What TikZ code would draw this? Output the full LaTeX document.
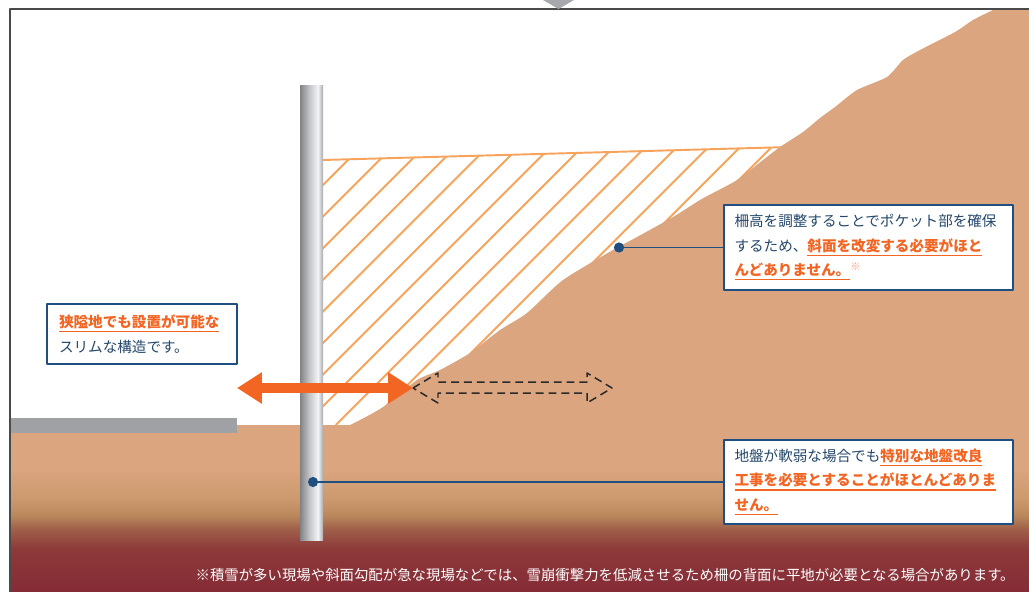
\documentclass[tikz,border=0pt]{standalone}
\usepackage{fontspec}
\setmainfont{Noto Sans CJK JP}
\usetikzlibrary{arrows.meta, positioning}

\definecolor{soil}{HTML}{DBA57F}
\definecolor{soilmid}{HTML}{CC9A6E}
\definecolor{soiltan}{HTML}{BB885C}
\definecolor{soilrust}{HTML}{A0604A}
\definecolor{soilred}{HTML}{8D3A3A}
\definecolor{soildeep}{HTML}{852B36}
\definecolor{poledark}{HTML}{818286}
\definecolor{polemid}{HTML}{C3C4C7}
\definecolor{polelight}{HTML}{F4F4F6}
\definecolor{poleedge}{HTML}{A9AAAE}

\pgfdeclareverticalshading{soilfade}{100bp}{color(0bp)=(soildeep); color(25bp)=(soildeep); color(38bp)=(soilred); color(44bp)=(soilrust); color(48bp)=(soiltan); color(53bp)=(soilmid); color(62bp)=(soil); color(100bp)=(soil)}
\pgfdeclarehorizontalshading{polemetal}{100bp}{color(0bp)=(poledark); color(25bp)=(poledark); color(45bp)=(polemid); color(64bp)=(polelight); color(71bp)=(polemid); color(75bp)=(poleedge); color(100bp)=(poleedge)}

% bold orange text with a rule under it
\newsavebox{\keybox}
\newcommand{\keypoint}[1]{\leavevmode{\color{accent}\bfseries\sbox{\keybox}{#1}\rlap{\rule[-2.6pt]{\wd\keybox}{0.8pt}}\usebox{\keybox}}}

\begin{document}
\begin{tikzpicture}[x=0.02cm, y=-0.02cm, line join=round,
    note/.style={draw=navy, line width=0.9pt, fill=white, align=left, text=ink, inner sep=0pt,
      font=\fontsize{8.3}{13.9}\selectfont},
    leader/.style={draw=navy, line width=1.1pt},
    pin/.style={circle, fill=navy, inner sep=0pt, minimum size=5.8pt},
    hatch/.style={draw=hatchorange, line width=1.1pt},
    wide arrow/.style={draw=accent, line width=5.67pt, {Triangle[length=14.2pt, width=17pt]}-{Triangle[length=14.2pt, width=17pt]}},
    reach arrow/.style={draw=dashgray, line width=0.85pt, dash pattern=on 4.5pt off 2.8pt}]
  \definecolor{navy}{HTML}{1F4E80}
  \definecolor{ink}{HTML}{24476B}
  \definecolor{accent}{HTML}{F26522}
  \definecolor{hatchorange}{HTML}{F7A35C}
  \definecolor{asterisk}{HTML}{F5A080}
  \definecolor{pavement}{HTML}{A0A1A5}
  \definecolor{dashgray}{HTML}{2A2A2A}
  \definecolor{framegray}{HTML}{4A4A4A}
  \definecolor{markgray}{HTML}{A7A8AB}

  \useasboundingbox (0,0) rectangle (1029,592);

  % ground and pavement
  \shade[shading=soilfade] (10,425) rectangle (1029,592);
  \fill[pavement] (10,418) rectangle (237,433);

  % pocket behind the fence
  \begin{scope}
    \clip (323,160) -- (800,147) -- (800,425) -- (323,425) -- cycle;
    \foreach \a in {0,...,15}
      \draw[hatch] (83+31.6*\a,425) -- ++(300,-300);
  \end{scope}
  \draw[hatch] (323,160) -- (790,147);

  % slope
  \fill[soil] (1029,10) -- plot[smooth, tension=0.4] coordinates {(993,10) (973,20) (955,32) (920,50)
      (903,60) (887,77) (857,90) (835,107) (820,118) (803,132) (780,147) (763,160) (737,180)
      (713,193) (700,200) (673,217) (637,237) (613,250) (563,280) (527,313) (500,330) (470,353)
      (440,370) (417,380) (383,407) (360,420) (350,425)} -- (350,432) -- (1029,432) -- cycle;

  % post
  \shade[shading=polemetal] (300,85) rectangle (323,540);

  % arrows
  \coordinate (wideL) at (237,388);
  \coordinate (wideR) at (413,388);
  \draw[wide arrow] (wideL) -- (wideR);
  \coordinate (reachR) at (612,388);
  \draw[reach arrow] (wideR) -- ++(25,-15) -- ++(0,9) -- ++(149,0) -- ++(0,-9) -- (reachR)
    -- ++(-25,15) -- ++(0,-10) -- ++(-149,0) -- ++(0,10) -- cycle;

  % callouts
  \node[note, minimum width=5.78cm, minimum height=1.7cm, text width=5.36cm] (slopenote) at (868.5,247.5)
    {柵高を調整することでポケット部を確保\\
     するため、\keypoint{斜面を改変する必要がほと}\\
     \keypoint{んどありません。}\textsuperscript{\color{asterisk}※}};
  \node[pin] (slopepin) at (619,247.5) {};
  \draw[leader] (slopepin) -- (slopenote.west);

  \node[note, minimum width=5.78cm, minimum height=1.68cm, text width=5.36cm] (groundnote) at (868.5,482)
    {地盤が軟弱な場合でも\keypoint{特別な地盤改良}\\
     \keypoint{工事を必要とすることがほとんどありま}\\
     \keypoint{せん。}};
  \node[pin] (groundpin) at (313,482) {};
  \draw[leader] (groundpin) -- (groundnote.west);

  \node[note, minimum width=3.8cm, minimum height=1.2cm, text width=3.32cm] (slimnote) at (142,334)
    {\keypoint{狭隘地でも設置が可能な}\\
     スリムな構造です。};

  \node[anchor=east, text=white, inner sep=0pt, font=\fontsize{8.2}{10}\selectfont] (snownote) at (1015,575)
    {※積雪が多い現場や斜面勾配が急な現場などでは、雪崩衝撃力を低減させるため柵の背面に平地が必要となる場合があります。};

  % frame
  \draw[framegray, line width=0.8pt] (10,592) -- (10,9) -- (1029,9);
  \fill[markgray] (543,0) -- (574,0) -- (558.5,9) -- cycle;
\end{tikzpicture}
\end{document}
